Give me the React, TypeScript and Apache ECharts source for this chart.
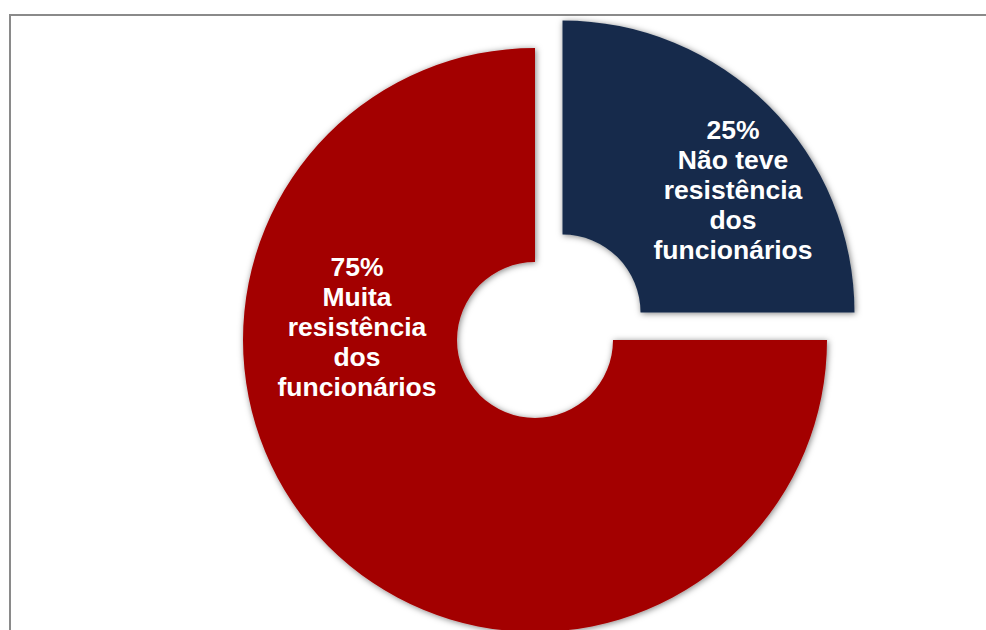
import React, { useEffect, useRef } from "react";
import * as echarts from "echarts";

const categories = ["Não teve resistência dos funcionários", "Muita resistência dos funcionários"];
const labelTexts = ["25%\nNão teve\nresistência\ndos\nfuncionários", "75%\nMuita\nresistência\ndos\nfuncionários"];
const values = [25, 75];
const colors = ["#182C4B", "#A30000"];
const sliceCenters = [[562.5, 312.5], [535, 340]];
const labelPositions = [[733, 190], [357, 327]];

export default function App() {
  const ref = useRef<HTMLDivElement>(null);
  useEffect(() => {
    const chart = echarts.init(ref.current!, null, { renderer: "svg" });
    const series = values.map((_, k) => ({
      type: "pie",
      name: categories[k],
      center: sliceCenters[k],
      radius: [78, 292],
      startAngle: 90,
      clockwise: true,
      emphasis: { disabled: true },
      silent: true,
      label: {
        show: true,
        position: "inside",
        color: "#ffffff",
        fontFamily: "Liberation Sans, Arial, sans-serif",
        fontWeight: "bold",
        fontSize: 26.5,
        lineHeight: 30,
        align: "center",
        formatter: (p: any) => labelTexts[p.dataIndex],
      },
      labelLine: { show: false },
      labelLayout: (p: any) => ({
        x: labelPositions[p.dataIndex][0],
        y: labelPositions[p.dataIndex][1],
        align: "center",
        verticalAlign: "middle",
      }),
      data: categories.map((c, i) => ({
        name: c,
        value: values[i],
        label: { show: i === k },
        itemStyle:
          i === k
            ? {
                color: colors[i],
                shadowBlur: 6,
                shadowColor: "rgba(0,0,0,0.5)",
                shadowOffsetX: 1,
                shadowOffsetY: 1,
              }
            : { color: "rgba(0,0,0,0)", shadowBlur: 0, borderWidth: 0 },
      })),
    }));
    chart.setOption({
      animation: false,
      backgroundColor: "#ffffff",
      graphic: [
        {
          type: "rect",
          shape: { x: 10, y: 15, width: 1000, height: 700 },
          style: { fill: "none", stroke: "#8a8a8a", lineWidth: 2 },
          silent: true,
        },
      ],
      series,
    });
    return () => chart.dispose();
  }, []);
  return (
    <div
      ref={ref}
      style={{ position: "fixed", left: 0, top: 0, width: 986, height: 630 }}
    />
  );
}
